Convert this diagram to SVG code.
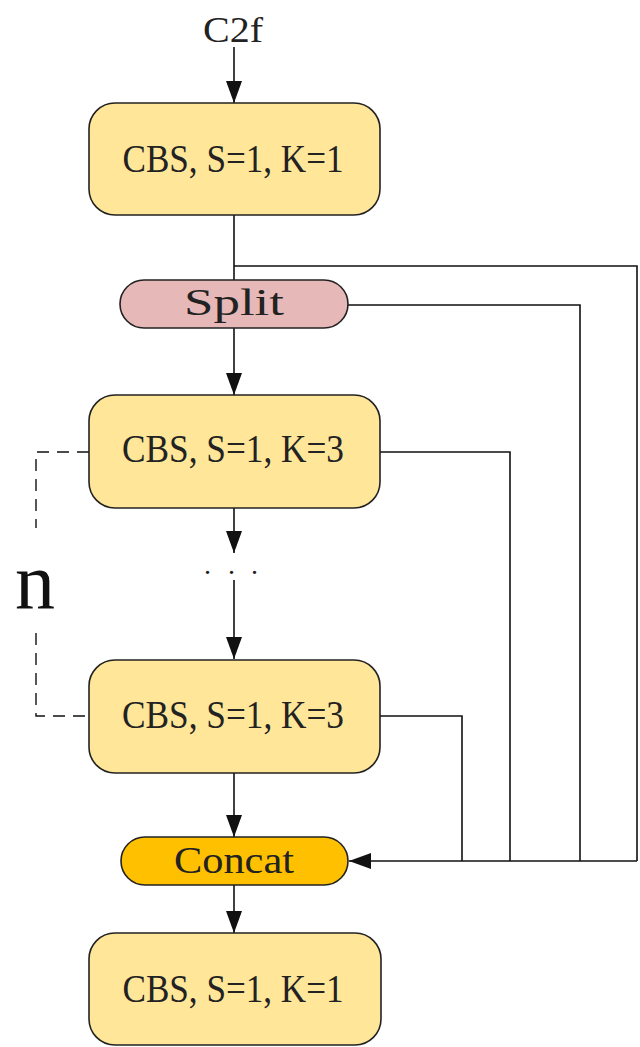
<svg xmlns="http://www.w3.org/2000/svg" width="640" height="1047" viewBox="0 0 640 1047">
<style>
.box{fill:#FFE699;stroke:#222;stroke-width:1.6}
.split{fill:#E6B8B7;stroke:#222;stroke-width:1.6}
.concat{fill:#FFC000;stroke:#222;stroke-width:1.6}
.t{font-family:"Liberation Serif","DejaVu Serif",serif;font-size:40px;fill:#222;text-anchor:middle}
.ln{fill:none;stroke:#111;stroke-width:1.6}
.dash{fill:none;stroke:#111;stroke-width:1.4;stroke-dasharray:12 8}
</style>
<defs>
<marker id="ah" markerUnits="userSpaceOnUse" markerWidth="22" markerHeight="16" refX="22" refY="8" orient="auto">
<path d="M0,0 L22,8 L0,16 z" fill="#111"/>
</marker>
</defs>
<text class="t" x="233" y="42" textLength="60" lengthAdjust="spacingAndGlyphs" style="font-size:36px">C2f</text>
<g id="connectors">
<path class="ln" d="M234,47 V103" marker-end="url(#ah)"/>
<path class="ln" d="M234,215 V280"/>
<path class="ln" d="M234,266 H637 V861"/>
<path class="ln" d="M348,305 H580 V861"/>
<path class="ln" d="M234,328 V395" marker-end="url(#ah)"/>
<path class="ln" d="M380,452 H510 V861"/>
<path class="ln" d="M234,508 V553" marker-end="url(#ah)"/>
<path class="ln" d="M234,580 V659" marker-end="url(#ah)"/>
<path class="ln" d="M380,716 H462 V861"/>
<path class="ln" d="M637,861 H462"/>
<path class="ln" d="M462,861 H349" stroke-width="2.6" marker-end="url(#ah)"/>
<path class="ln" d="M234,773 V837" marker-end="url(#ah)"/>
<path class="ln" d="M234,885 V933" marker-end="url(#ah)"/>
<path class="dash" d="M89,452 H36 V528"/>
<path class="dash" d="M36,633 V716 H89"/>
</g>
<g id="cbs1">
<rect class="box" x="89" y="103" width="291" height="112" rx="26"/>
<text class="t" x="233" y="172" textLength="221" lengthAdjust="spacingAndGlyphs">CBS, S=1, K=1</text>
</g>
<g id="split">
<rect class="split" x="120" y="280" width="228" height="48" rx="24"/>
<text class="t" x="234" y="315" textLength="100" lengthAdjust="spacingAndGlyphs" style="font-size:37px">Split</text>
</g>
<g id="cbs2">
<rect class="box" x="89" y="395" width="291" height="113" rx="26"/>
<text class="t" x="233" y="462" textLength="222" lengthAdjust="spacingAndGlyphs">CBS, S=1, K=3</text>
</g>
<g id="dots">
<text x="204 228 251" y="574" style="font-family:'Liberation Serif',serif;font-size:28px;fill:#222">...</text>
</g>
<g id="nlabel">
<text x="15" y="608" style="font-family:'Liberation Serif',serif;font-size:80px;fill:#111">n</text>
</g>
<g id="cbs3">
<rect class="box" x="89" y="660" width="291" height="113" rx="26"/>
<text class="t" x="233" y="728" textLength="222" lengthAdjust="spacingAndGlyphs">CBS, S=1, K=3</text>
</g>
<g id="concat">
<rect class="concat" x="121" y="837" width="227" height="48" rx="24"/>
<text class="t" x="234" y="873" textLength="120" lengthAdjust="spacingAndGlyphs" style="font-size:38px">Concat</text>
</g>
<g id="cbs4">
<rect class="box" x="89" y="933" width="292" height="112" rx="26"/>
<text class="t" x="233" y="1002" textLength="221" lengthAdjust="spacingAndGlyphs">CBS, S=1, K=1</text>
</g>
</svg>
